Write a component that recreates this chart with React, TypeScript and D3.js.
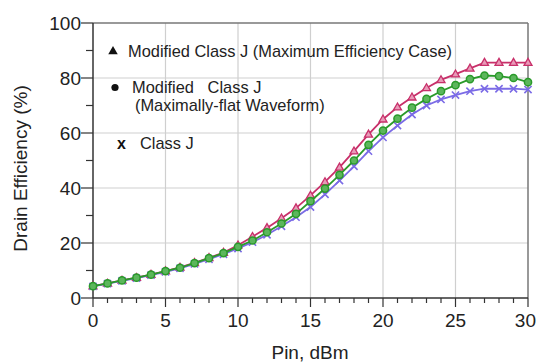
import React from "react";
import * as d3 from "d3";

const pinDbm = d3.range(0, 31);
const maxEffCase = [4.3, 5.3, 6.4, 7.4, 8.5, 9.8, 11.1, 12.8, 14.6, 16.5, 19.2, 22.3, 25.5, 29.0, 32.7, 37.3, 42.2, 47.5, 53.4, 59.5, 65.0, 69.4, 73.0, 76.4, 79.3, 81.4, 83.5, 85.6, 85.6, 85.6, 85.6];
const maxFlat = [4.3, 5.3, 6.4, 7.4, 8.5, 9.8, 11.0, 12.7, 14.5, 16.3, 18.6, 20.9, 23.9, 27.1, 30.6, 35.2, 39.8, 44.8, 50.0, 55.7, 60.9, 65.2, 69.2, 72.4, 75.2, 77.4, 79.6, 80.9, 80.7, 80.0, 78.5];
const classJ = [4.2, 5.2, 6.2, 7.2, 8.3, 9.5, 10.8, 12.4, 14.1, 15.9, 18.0, 20.3, 23.0, 26.1, 29.4, 33.1, 37.7, 42.7, 47.9, 53.4, 58.4, 62.7, 66.7, 70.0, 72.2, 73.8, 75.2, 76.1, 76.1, 76.1, 75.8];
const xTicks = [0, 5, 10, 15, 20, 25, 30];
const yTicks = [0, 20, 40, 60, 80, 100];

const W = 537, H = 362;
const FONT = "'Liberation Sans', Arial, sans-serif";
const PINK = "#c8306a";
const GREEN = "#2a9a2a";
const BLUE = "#7b6be6";

export default function App() {
  const x = d3.scaleLinear().domain([0, 30]).range([93, 528]);
  const y = d3.scaleLinear().domain([0, 100]).range([298, 23]);
  const line = d3.line<number>().x((_, i) => x(pinDbm[i])).y((d) => y(d));

  const minorX = d3.range(0, 31);
  const minorY = d3.range(0, 101, 10);

  const tri = (cx: number, cy: number, s: number) =>
    `M${cx},${cy - s} L${cx + s * 0.95},${cy + s * 0.65} L${cx - s * 0.95},${cy + s * 0.65} Z`;

  return (
    <svg width={W} height={H} style={{ position: "absolute", left: 0, top: 0, background: "#fff" }} fontFamily={FONT}>
      {/* grid */}
      {xTicks.slice(1, -1).map((t) => (
        <line key={"gx" + t} x1={x(t)} x2={x(t)} y1={y(0)} y2={y(100)} stroke="#cfcfcf" strokeWidth={1.2} />
      ))}
      {yTicks.slice(1, -1).map((t) => (
        <line key={"gy" + t} x1={x(0)} x2={x(30)} y1={y(t)} y2={y(t)} stroke="#cfcfcf" strokeWidth={1.2} />
      ))}
      {/* frame */}
      <line x1={x(0)} x2={x(30)} y1={y(100)} y2={y(100)} stroke="#777" strokeWidth={1.5} />
      <line x1={x(30)} x2={x(30)} y1={y(0)} y2={y(100)} stroke="#777" strokeWidth={1.5} />
      <line x1={x(0)} x2={x(30)} y1={y(0)} y2={y(0)} stroke="#333" strokeWidth={1.5} />
      <line x1={x(0)} x2={x(0)} y1={y(0)} y2={y(100)} stroke="#333" strokeWidth={1.5} />
      {/* ticks */}
      {minorX.map((t) => (
        <line key={"tx" + t} x1={x(t)} x2={x(t)} y1={y(0)} y2={y(0) + (t % 5 === 0 ? 9 : 5)} stroke="#333" strokeWidth={1.2} />
      ))}
      {minorY.map((t) => (
        <line key={"ty" + t} x1={x(0) - (t % 20 === 0 ? 12 : 7)} x2={x(0)} y1={y(t)} y2={y(t)} stroke="#333" strokeWidth={1.2} />
      ))}
      {xTicks.map((t, i) => {
        const last = i === xTicks.length - 1;
        return (
          <text key={"lx" + t} x={last ? W - 1 : x(t)} y={327} textAnchor={last ? "end" : "middle"} fontSize={19} fill="#222">{t}</text>
        );
      })}
      {yTicks.map((t) => (
        <text key={"ly" + t} x={81} y={y(t)} textAnchor="end" dominantBaseline="central" fontSize={19} fill="#222">{t}</text>
      ))}
      {/* axis titles */}
      <text x={310} y={359} textAnchor="middle" fontSize={19} fill="#222">Pin, dBm</text>
      <text transform={`translate(27,${(y(0) + y(100)) / 2 + 8}) rotate(-90)`} textAnchor="middle" fontSize={19} fill="#222">Drain Efficiency (%)</text>

      {/* series */}
      <path d={line(maxEffCase) || ""} fill="none" stroke={PINK} strokeWidth={1.8} />
      {maxEffCase.map((v, i) => (
        <path key={"pm" + i} d={tri(x(pinDbm[i]), y(v), 4.2)} fill="#e89ab8" stroke={PINK} strokeWidth={1.3} />
      ))}
      <path d={line(classJ) || ""} fill="none" stroke={BLUE} strokeWidth={1.8} />
      {classJ.map((v, i) => {
        const cx = x(pinDbm[i]), cy = y(v), s = 3.6;
        return (
          <path key={"bm" + i} d={`M${cx - s},${cy - s}L${cx + s},${cy + s}M${cx - s},${cy + s}L${cx + s},${cy - s}`} stroke={BLUE} strokeWidth={1.6} fill="none" />
        );
      })}
      <path d={line(maxFlat) || ""} fill="none" stroke={GREEN} strokeWidth={1.8} />
      {maxFlat.map((v, i) => (
        <circle key={"gm" + i} cx={x(pinDbm[i])} cy={y(v)} r={3.6} fill="#5cb65c" stroke={GREEN} strokeWidth={1.5} />
      ))}

      {/* legend */}
      <path d={tri(113, 51, 5)} fill="#111" />
      <text x={128} y={57} fontSize={16.4} fill="#222">Modified Class J (Maximum Efficiency Case)</text>
      <circle cx={115} cy={87.5} r={3.6} fill="#111" />
      <text x={132} y={93} fontSize={16.4} fill="#222" style={{ whiteSpace: "pre" }}>{"Modified   Class J"}</text>
      <text x={135} y={111} fontSize={16.4} fill="#222">(Maximally-flat Waveform)</text>
      <text x={121.5} y={149} textAnchor="middle" fontSize={16} fontWeight="bold" fill="#111">x</text>
      <text x={140} y={149} fontSize={16.4} fill="#222">Class J</text>
    </svg>
  );
}
